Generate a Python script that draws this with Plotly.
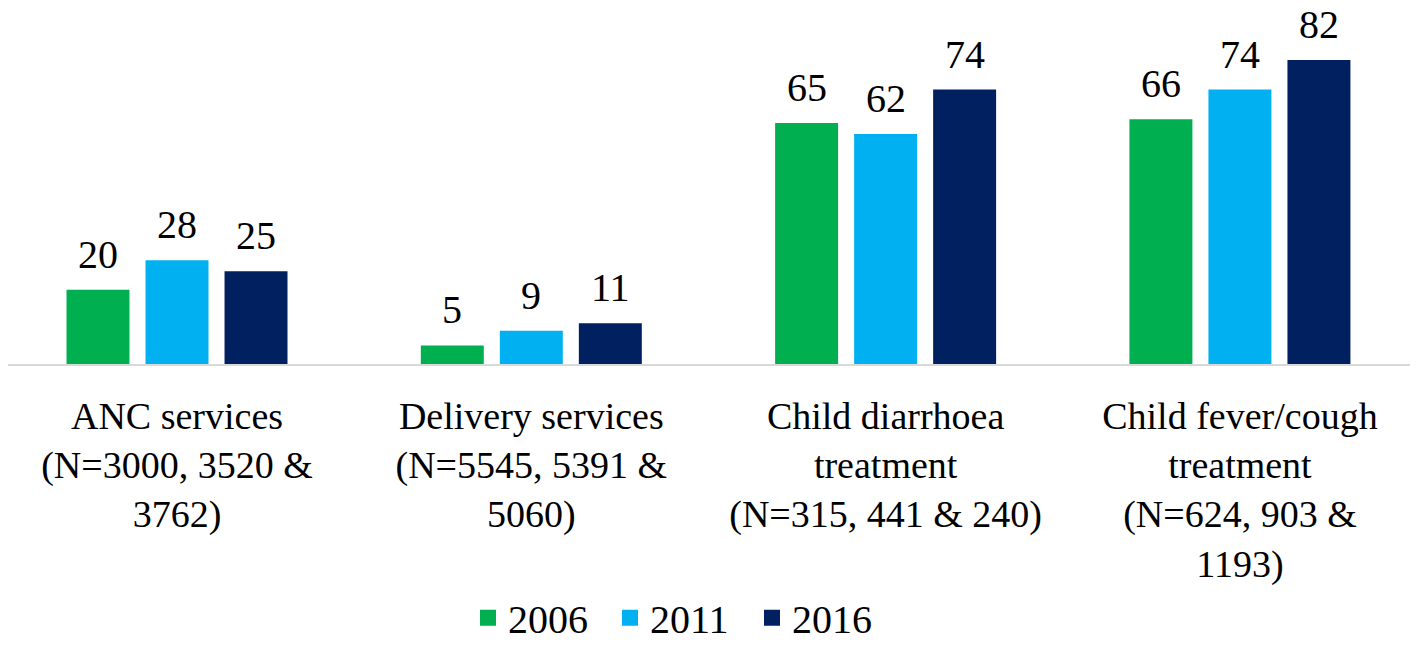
import plotly.graph_objects as go

categories = [
    "ANC services<br>(N=3000, 3520 &<br>3762)",
    "Delivery services<br>(N=5545, 5391 &<br>5060)",
    "Child diarrhoea<br>treatment<br>(N=315, 441 & 240)",
    "Child fever/cough<br>treatment<br>(N=624, 903 &<br>1193)",
]
years = ["2006", "2011", "2016"]
values_2006 = [20, 5, 65, 66]
values_2011 = [28, 9, 62, 74]
values_2016 = [25, 11, 74, 82]
colors = ["#00B050", "#00B0F0", "#002060"]

FONT = "Liberation Serif"
series = [values_2006, values_2011, values_2016]

fig = go.Figure()
for yr, vals, col in zip(years, series, colors):
    fig.add_trace(go.Bar(x=categories, y=vals, name=yr, marker_color=col,
                         marker_line_width=0, showlegend=False, hoverinfo="skip"))
    # legend proxy with bigger square
    fig.add_trace(go.Scatter(x=[None], y=[None], mode="markers", name=yr,
                             marker=dict(symbol="square", size=21, color=col)))

# value labels above bars
bargap = 0.331
slot = (1 - bargap) / 3
for j, vals in enumerate(series):
    off = (j - 1) * slot
    for i, v in enumerate(vals):
        fig.add_annotation(x=i + off, y=v, text=str(v), showarrow=False,
                           yanchor="bottom", yshift=11,
                           font=dict(family=FONT, size=40, color="black"))

fig.update_layout(
    width=1410, height=637,
    paper_bgcolor="white", plot_bgcolor="white",
    barmode="group", bargap=bargap, bargroupgap=0.203,
    margin=dict(l=0, r=0, t=0, b=281, autoexpand=False),
    font=dict(family=FONT, color="black"),
    legend=dict(orientation="h", x=0.4773, xanchor="center", y=-0.7128, yanchor="middle",
                font=dict(family=FONT, size=40), itemclick=False,
                entrywidth=97, entrywidthmode="pixels"),
    xaxis=dict(showline=True, linecolor="#d9d9d9", linewidth=2, ticks="",
               automargin=False, range=[-0.477, 3.5026], ticklabelstandoff=17,
               tickfont=dict(family=FONT, size=38), fixedrange=True),
    yaxis=dict(range=[0, 96], visible=False, showgrid=False, fixedrange=True,
               automargin=False),
)

fig.write_html("out.html")
